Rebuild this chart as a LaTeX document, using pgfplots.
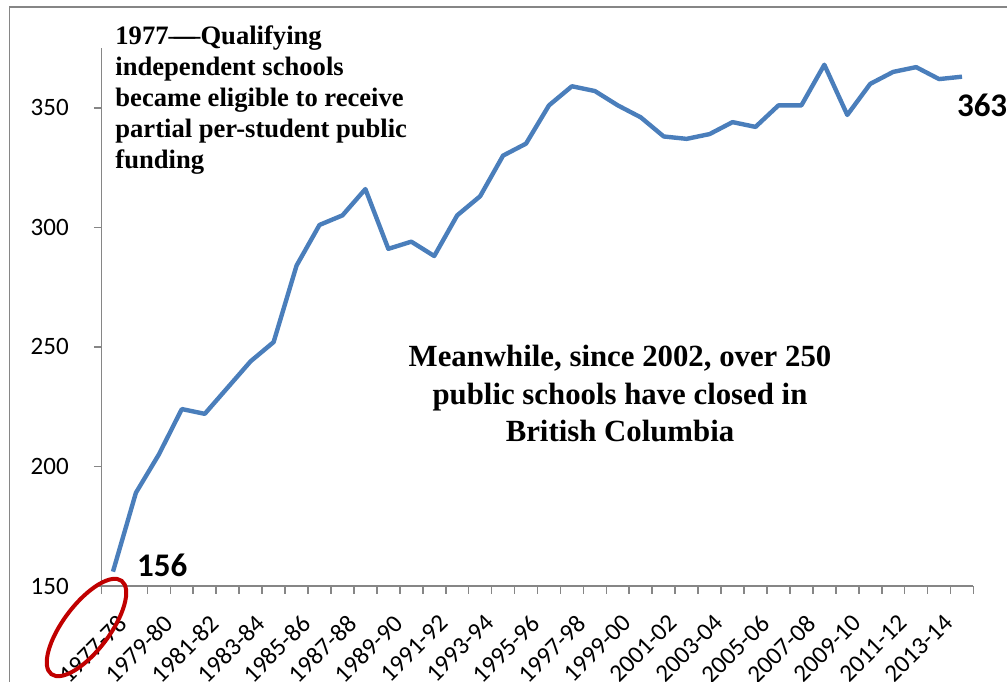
\documentclass[border=0pt]{standalone}
\usepackage{pgfplots}
\pgfplotsset{compat=1.18}
\usepackage{fontspec}
\setmainfont{Liberation Serif}
\newfontfamily\calibri{Carlito}
\newfontfamily\timesf{Liberation Serif}
\definecolor{lineblue}{HTML}{4A7EBB}
\definecolor{axgray}{HTML}{868686}
\definecolor{circred}{HTML}{C00000}

\pgfplotstableread{
i v
0 156
1 189
2 205
3 224
4 222
5 233
6 244
7 252
8 284
9 301
10 305
11 316
12 291
13 294
14 288
15 305
16 313
17 330
18 335
19 351
20 359
21 357
22 351
23 346
24 338
25 337
26 339
27 344
28 342
29 351
30 351
31 368
32 347
33 360
34 365
35 367
36 362
37 363
}\schools

\begin{document}
\begin{tikzpicture}
\useasboundingbox (0pt,0pt) rectangle (503.5pt,340.5pt);
\draw[axgray, line width=0.8pt] (4.75pt,-5pt) -- (4.75pt,337pt) -- (510pt,337pt);
\begin{axis}[
  at={(50.75pt,47.5pt)}, anchor=south west,
  scale only axis, width=436pt, height=269pt,
  xmin=-0.5, xmax=37.5, ymin=150, ymax=375,
  axis x line=bottom, axis y line=left,
  axis line style={-, draw=axgray, line width=0.8pt},
  tick align=outside, major tick length=3.8pt,
  tick style={draw=axgray, line width=0.8pt},
  /pgf/number format/assume math mode=true,
  ytick={150,200,...,350},
  yticklabel style={font=\calibri\fontsize{12.5}{15}\selectfont, anchor=east, inner sep=0pt, xshift=-12.4pt},
  xtick={-0.5,0.5,...,37.5}, xticklabels={},
  extra x ticks={0,2,...,36},
  extra x tick labels={1977-78,1979-80,1981-82,1983-84,1985-86,1987-88,1989-90,1991-92,1993-94,1995-96,1997-98,1999-00,2001-02,2003-04,2005-06,2007-08,2009-10,2011-12,2013-14},
  extra x tick style={major tick length=0pt, xticklabel style={xshift=1.8pt, yshift=-13.3pt, rotate=45, anchor=north east, inner sep=0pt, font=\calibri\fontsize{12.5}{15}\selectfont}},
  clip=false,
]
\addplot[lineblue, line width=2.2pt, line join=round, mark=none] table[x=i, y=v] {\schools};
\node[anchor=base west, inner sep=0pt, font=\calibri\bfseries\fontsize{16.5}{18}\selectfont] at (axis cs:0,156) [xshift=11.85pt, yshift=-2.2pt] {156};
\node[anchor=base west, inner sep=0pt, font=\calibri\bfseries\fontsize{16.5}{18}\selectfont] at (axis cs:37,363) [xshift=-2.7pt, yshift=-20.1pt] {363};
\end{axis}
\begin{scope}[font=\timesf\bfseries\fontsize{13.3}{15}\selectfont]
\node[anchor=base west, inner sep=0pt] at (57.5pt,318pt) {1977—\kern-0.8em—Qualifying};
\node[anchor=base west, inner sep=0pt] at (57.5pt,302.6pt) {independent schools};
\node[anchor=base west, inner sep=0pt] at (57.5pt,287.2pt) {became eligible to receive};
\node[anchor=base west, inner sep=0pt] at (57.5pt,271.8pt) {partial per-student public};
\node[anchor=base west, inner sep=0pt] at (57.5pt,256.4pt) {funding};
\end{scope}
\begin{scope}[font=\timesf\bfseries\fontsize{15.4}{18}\selectfont]
\node[anchor=base, inner sep=0pt] at (310pt,157.2pt) {Meanwhile, since 2002, over 250};
\node[anchor=base, inner sep=0pt] at (310pt,138.45pt) {public schools have closed in};
\node[anchor=base, inner sep=0pt] at (310pt,119.7pt) {British Columbia};
\end{scope}
\begin{scope}[shift={(43.25pt,26.75pt)}, rotate=53]
\draw[circred, line width=2pt] (0pt,0pt) ellipse [x radius=29.2pt, y radius=11.6pt];
\end{scope}
\end{tikzpicture}
\end{document}
